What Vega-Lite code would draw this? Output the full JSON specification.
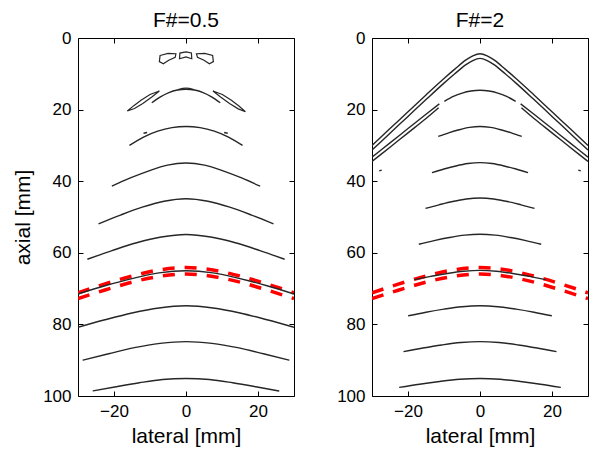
{
  "$schema": "https://vega.github.io/schema/vega-lite/v6.json",
  "background": "white",
  "padding": {"left": 12, "top": 9, "right": 5, "bottom": 2},
  "spacing": 38,
  "config": {
    "font": "Liberation Sans",
    "view": {"stroke": "black", "strokeWidth": 1},
    "axis": {"domain": false, "grid": false, "tickColor": "black", "tickSize": -5, "tickWidth": 1, "labelFontSize": 17, "labelColor": "black", "labelPadding": 12, "titleFontSize": 21, "titleFontWeight": "normal", "titleColor": "black", "labelFont": "Liberation Sans", "titleFont": "Liberation Sans"},
    "title": {"fontSize": 21, "fontWeight": "normal", "font": "Liberation Sans", "color": "black", "offset": -2}
  },
  "datasets": {
    "red": [
      {"s": "u", "x": -30, "y": 71.2}, {"s": "u", "x": -22.5, "y": 68.7}, {"s": "u", "x": -15, "y": 66.5}, {"s": "u", "x": -7.5, "y": 64.8}, {"s": "u", "x": 0, "y": 64.1}, {"s": "u", "x": 7.5, "y": 64.8}, {"s": "u", "x": 15, "y": 66.5}, {"s": "u", "x": 22.5, "y": 68.7}, {"s": "u", "x": 30, "y": 71.2},
      {"s": "l", "x": -30, "y": 72.8}, {"s": "l", "x": -22.5, "y": 70.4}, {"s": "l", "x": -15, "y": 68.2}, {"s": "l", "x": -7.5, "y": 66.6}, {"s": "l", "x": 0, "y": 65.9}, {"s": "l", "x": 7.5, "y": 66.6}, {"s": "l", "x": 15, "y": 68.2}, {"s": "l", "x": 22.5, "y": 70.4}, {"s": "l", "x": 30, "y": 72.8}
    ],
    "L": [
      {"s": "a15", "x": -9.5, "y": 18.1}, {"s": "a15", "x": -7.1, "y": 16.44}, {"s": "a15", "x": -4.75, "y": 15.25}, {"s": "a15", "x": -2.4, "y": 14.54}, {"s": "a15", "x": 0, "y": 14.3}, {"s": "a15", "x": 2.4, "y": 14.54}, {"s": "a15", "x": 4.75, "y": 15.25}, {"s": "a15", "x": 7.1, "y": 16.44}, {"s": "a15", "x": 9.5, "y": 18.1},
      {"s": "a25", "x": -15.7, "y": 30.0}, {"s": "a25", "x": -11.8, "y": 27.68}, {"s": "a25", "x": -7.85, "y": 26.03}, {"s": "a25", "x": -3.9, "y": 25.03}, {"s": "a25", "x": 0, "y": 24.7}, {"s": "a25", "x": 3.9, "y": 25.03}, {"s": "a25", "x": 7.85, "y": 26.03}, {"s": "a25", "x": 11.8, "y": 27.68}, {"s": "a25", "x": 15.7, "y": 30.0},
      {"s": "a35", "x": -20.6, "y": 41.4}, {"s": "a35", "x": -15.45, "y": 39.1}, {"s": "a35", "x": -10.3, "y": 37.1}, {"s": "a35", "x": -5.15, "y": 35.5}, {"s": "a35", "x": 0, "y": 34.9}, {"s": "a35", "x": 5.15, "y": 35.5}, {"s": "a35", "x": 10.3, "y": 37.1}, {"s": "a35", "x": 15.45, "y": 39.1}, {"s": "a35", "x": 20.6, "y": 41.4},
      {"s": "a45", "x": -24.3, "y": 51.9}, {"s": "a45", "x": -18.2, "y": 49.45}, {"s": "a45", "x": -12.15, "y": 47.25}, {"s": "a45", "x": -6.1, "y": 45.6}, {"s": "a45", "x": 0, "y": 44.9}, {"s": "a45", "x": 6.1, "y": 45.6}, {"s": "a45", "x": 12.15, "y": 47.25}, {"s": "a45", "x": 18.2, "y": 49.45}, {"s": "a45", "x": 24.3, "y": 51.9},
      {"s": "a55", "x": -27.4, "y": 61.8}, {"s": "a55", "x": -20.55, "y": 59.4}, {"s": "a55", "x": -13.7, "y": 57.2}, {"s": "a55", "x": -6.85, "y": 55.6}, {"s": "a55", "x": 0, "y": 54.9}, {"s": "a55", "x": 6.85, "y": 55.6}, {"s": "a55", "x": 13.7, "y": 57.2}, {"s": "a55", "x": 20.55, "y": 59.4}, {"s": "a55", "x": 27.4, "y": 61.8},
      {"s": "a65", "x": -30, "y": 71.5}, {"s": "a65", "x": -22.5, "y": 69.2}, {"s": "a65", "x": -15, "y": 67.2}, {"s": "a65", "x": -7.5, "y": 65.6}, {"s": "a65", "x": 0, "y": 65.0}, {"s": "a65", "x": 7.5, "y": 65.6}, {"s": "a65", "x": 15, "y": 67.2}, {"s": "a65", "x": 22.5, "y": 69.2}, {"s": "a65", "x": 30, "y": 71.5},
      {"s": "a75", "x": -30, "y": 80.8}, {"s": "a75", "x": -22.5, "y": 78.7}, {"s": "a75", "x": -15, "y": 76.8}, {"s": "a75", "x": -7.5, "y": 75.4}, {"s": "a75", "x": 0, "y": 74.8}, {"s": "a75", "x": 7.5, "y": 75.4}, {"s": "a75", "x": 15, "y": 76.8}, {"s": "a75", "x": 22.5, "y": 78.7}, {"s": "a75", "x": 30, "y": 80.8},
      {"s": "a85", "x": -28.7, "y": 90.0}, {"s": "a85", "x": -21.5, "y": 88.2}, {"s": "a85", "x": -14.35, "y": 86.5}, {"s": "a85", "x": -7.2, "y": 85.3}, {"s": "a85", "x": 0, "y": 84.8}, {"s": "a85", "x": 7.2, "y": 85.3}, {"s": "a85", "x": 14.35, "y": 86.5}, {"s": "a85", "x": 21.5, "y": 88.2}, {"s": "a85", "x": 28.7, "y": 90.0},
      {"s": "a95", "x": -25.9, "y": 98.6}, {"s": "a95", "x": -19.4, "y": 97.4}, {"s": "a95", "x": -12.95, "y": 96.3}, {"s": "a95", "x": -6.5, "y": 95.4}, {"s": "a95", "x": 0, "y": 95.1}, {"s": "a95", "x": 6.5, "y": 95.4}, {"s": "a95", "x": 12.95, "y": 96.3}, {"s": "a95", "x": 19.4, "y": 97.4}, {"s": "a95", "x": 25.9, "y": 98.6},
      {"s": "d1", "x": -11.8, "y": 26.6}, {"s": "d1", "x": -10.8, "y": 26.4},
      {"s": "d2", "x": 10.6, "y": 26.4}, {"s": "d2", "x": 11.6, "y": 26.6},
      {"s": "ab", "x": -2.2, "y": 14.4}, {"s": "ab", "x": 0, "y": 14.0}, {"s": "ab", "x": 2.2, "y": 14.4}
    ],
    "Lloop": [
      {"s": "b1", "i": 0, "x": -7.2, "y": 4.9}, {"s": "b1", "i": 1, "x": -5.0, "y": 4.3}, {"s": "b1", "i": 2, "x": -2.8, "y": 4.4}, {"s": "b1", "i": 3, "x": -3.0, "y": 5.4}, {"s": "b1", "i": 4, "x": -4.8, "y": 6.2}, {"s": "b1", "i": 5, "x": -6.3, "y": 7.2}, {"s": "b1", "i": 6, "x": -7.4, "y": 6.6},
      {"s": "b2", "i": 0, "x": -1.8, "y": 5.8}, {"s": "b2", "i": 1, "x": -1.7, "y": 4.2}, {"s": "b2", "i": 2, "x": 0, "y": 3.9}, {"s": "b2", "i": 3, "x": 1.5, "y": 4.2}, {"s": "b2", "i": 4, "x": 1.6, "y": 5.8}, {"s": "b2", "i": 5, "x": 0, "y": 5.3},
      {"s": "b3", "i": 0, "x": 2.9, "y": 4.4}, {"s": "b3", "i": 1, "x": 5.2, "y": 4.3}, {"s": "b3", "i": 2, "x": 7.4, "y": 4.9}, {"s": "b3", "i": 3, "x": 7.6, "y": 6.6}, {"s": "b3", "i": 4, "x": 6.5, "y": 7.2}, {"s": "b3", "i": 5, "x": 5.0, "y": 6.2}, {"s": "b3", "i": 6, "x": 3.2, "y": 5.4},
      {"s": "f1", "i": 0, "x": -16.3, "y": 20.4}, {"s": "f1", "i": 1, "x": -14.5, "y": 18.9}, {"s": "f1", "i": 2, "x": -12.5, "y": 17.4}, {"s": "f1", "i": 3, "x": -10.0, "y": 15.8}, {"s": "f1", "i": 4, "x": -7.4, "y": 14.8}, {"s": "f1", "i": 5, "x": -9.5, "y": 16.5}, {"s": "f1", "i": 6, "x": -12.0, "y": 18.3}, {"s": "f1", "i": 7, "x": -14.3, "y": 19.7},
      {"s": "f2", "i": 0, "x": 16.5, "y": 20.6}, {"s": "f2", "i": 1, "x": 14.7, "y": 19.0}, {"s": "f2", "i": 2, "x": 12.6, "y": 17.4}, {"s": "f2", "i": 3, "x": 10.1, "y": 15.8}, {"s": "f2", "i": 4, "x": 7.5, "y": 14.8}, {"s": "f2", "i": 5, "x": 9.6, "y": 16.5}, {"s": "f2", "i": 6, "x": 12.1, "y": 18.3}, {"s": "f2", "i": 7, "x": 14.5, "y": 19.8}
    ],
    "R": [
      {"s": "c1", "x": -30, "y": 30.0}, {"s": "c1", "x": -25, "y": 25.3}, {"s": "c1", "x": -20, "y": 20.6}, {"s": "c1", "x": -15, "y": 15.9}, {"s": "c1", "x": -10, "y": 11.3}, {"s": "c1", "x": -7, "y": 8.7}, {"s": "c1", "x": -4, "y": 6.2}, {"s": "c1", "x": -2, "y": 5.0}, {"s": "c1", "x": 0, "y": 4.4}, {"s": "c1", "x": 2, "y": 5.0}, {"s": "c1", "x": 4, "y": 6.2}, {"s": "c1", "x": 7, "y": 8.7}, {"s": "c1", "x": 10, "y": 11.3}, {"s": "c1", "x": 15, "y": 15.9}, {"s": "c1", "x": 20, "y": 20.6}, {"s": "c1", "x": 25, "y": 25.3}, {"s": "c1", "x": 30, "y": 30.0},
      {"s": "c2", "x": -30, "y": 31.3}, {"s": "c2", "x": -25, "y": 26.6}, {"s": "c2", "x": -20, "y": 21.9}, {"s": "c2", "x": -15, "y": 17.2}, {"s": "c2", "x": -10, "y": 12.6}, {"s": "c2", "x": -7, "y": 10.0}, {"s": "c2", "x": -4, "y": 7.5}, {"s": "c2", "x": -2, "y": 6.3}, {"s": "c2", "x": 0, "y": 5.7}, {"s": "c2", "x": 2, "y": 6.3}, {"s": "c2", "x": 4, "y": 7.5}, {"s": "c2", "x": 7, "y": 10.0}, {"s": "c2", "x": 10, "y": 12.6}, {"s": "c2", "x": 15, "y": 17.2}, {"s": "c2", "x": 20, "y": 21.9}, {"s": "c2", "x": 25, "y": 26.6}, {"s": "c2", "x": 30, "y": 31.3},
      {"s": "i1L", "x": -30, "y": 33.3}, {"s": "i1L", "x": -25, "y": 29.3}, {"s": "i1L", "x": -20, "y": 25.3}, {"s": "i1L", "x": -15, "y": 21.3}, {"s": "i1L", "x": -11.3, "y": 18.4},
      {"s": "i2L", "x": -30, "y": 34.5}, {"s": "i2L", "x": -25, "y": 30.5}, {"s": "i2L", "x": -20, "y": 26.5}, {"s": "i2L", "x": -15, "y": 22.5}, {"s": "i2L", "x": -11.5, "y": 19.5},
      {"s": "i1R", "x": 30, "y": 33.3}, {"s": "i1R", "x": 25, "y": 29.3}, {"s": "i1R", "x": 20, "y": 25.3}, {"s": "i1R", "x": 15, "y": 21.3}, {"s": "i1R", "x": 11.3, "y": 18.4},
      {"s": "i2R", "x": 30, "y": 34.5}, {"s": "i2R", "x": 25, "y": 30.5}, {"s": "i2R", "x": 20, "y": 26.5}, {"s": "i2R", "x": 15, "y": 22.5}, {"s": "i2R", "x": 11.5, "y": 19.5},
      {"s": "r15", "x": -9.9, "y": 17.7}, {"s": "r15", "x": -7.4, "y": 16.33}, {"s": "r15", "x": -4.95, "y": 15.38}, {"s": "r15", "x": -2.5, "y": 14.8}, {"s": "r15", "x": 0, "y": 14.6}, {"s": "r15", "x": 2.5, "y": 14.8}, {"s": "r15", "x": 4.95, "y": 15.38}, {"s": "r15", "x": 7.4, "y": 16.33}, {"s": "r15", "x": 9.9, "y": 17.7},
      {"s": "r25", "x": -11.6, "y": 27.5}, {"s": "r25", "x": -8.7, "y": 26.5}, {"s": "r25", "x": -5.8, "y": 25.64}, {"s": "r25", "x": -2.9, "y": 24.97}, {"s": "r25", "x": 0, "y": 24.7}, {"s": "r25", "x": 2.9, "y": 24.97}, {"s": "r25", "x": 5.8, "y": 25.64}, {"s": "r25", "x": 8.7, "y": 26.5}, {"s": "r25", "x": 11.6, "y": 27.5},
      {"s": "r35", "x": -13.35, "y": 37.6}, {"s": "r35", "x": -10.0, "y": 36.6}, {"s": "r35", "x": -6.7, "y": 35.74}, {"s": "r35", "x": -3.35, "y": 35.07}, {"s": "r35", "x": 0, "y": 34.8}, {"s": "r35", "x": 3.35, "y": 35.07}, {"s": "r35", "x": 6.7, "y": 35.74}, {"s": "r35", "x": 10.0, "y": 36.6}, {"s": "r35", "x": 13.35, "y": 37.6},
      {"s": "r45", "x": -15.15, "y": 47.6}, {"s": "r45", "x": -11.4, "y": 46.6}, {"s": "r45", "x": -7.6, "y": 45.67}, {"s": "r45", "x": -3.8, "y": 44.98}, {"s": "r45", "x": 0, "y": 44.7}, {"s": "r45", "x": 3.8, "y": 44.98}, {"s": "r45", "x": 7.6, "y": 45.67}, {"s": "r45", "x": 11.4, "y": 46.6}, {"s": "r45", "x": 15.15, "y": 47.6},
      {"s": "r55", "x": -17, "y": 57.6}, {"s": "r55", "x": -12.75, "y": 56.6}, {"s": "r55", "x": -8.5, "y": 55.74}, {"s": "r55", "x": -4.25, "y": 55.07}, {"s": "r55", "x": 0, "y": 54.8}, {"s": "r55", "x": 4.25, "y": 55.07}, {"s": "r55", "x": 8.5, "y": 55.74}, {"s": "r55", "x": 12.75, "y": 56.6}, {"s": "r55", "x": 17, "y": 57.6},
      {"s": "r65", "x": -18.25, "y": 67.5}, {"s": "r65", "x": -13.7, "y": 66.6}, {"s": "r65", "x": -9.1, "y": 65.77}, {"s": "r65", "x": -4.55, "y": 65.15}, {"s": "r65", "x": 0, "y": 64.9}, {"s": "r65", "x": 4.55, "y": 65.15}, {"s": "r65", "x": 9.1, "y": 65.77}, {"s": "r65", "x": 13.7, "y": 66.6}, {"s": "r65", "x": 18.25, "y": 67.5},
      {"s": "r75", "x": -19.95, "y": 77.6}, {"s": "r75", "x": -15, "y": 76.6}, {"s": "r75", "x": -10, "y": 75.74}, {"s": "r75", "x": -5.0, "y": 75.07}, {"s": "r75", "x": 0, "y": 74.8}, {"s": "r75", "x": 5.0, "y": 75.07}, {"s": "r75", "x": 10, "y": 75.74}, {"s": "r75", "x": 15, "y": 76.6}, {"s": "r75", "x": 19.95, "y": 77.6},
      {"s": "r85", "x": -21.25, "y": 87.6}, {"s": "r85", "x": -15.9, "y": 86.6}, {"s": "r85", "x": -10.6, "y": 85.74}, {"s": "r85", "x": -5.3, "y": 85.07}, {"s": "r85", "x": 0, "y": 84.8}, {"s": "r85", "x": 5.3, "y": 85.07}, {"s": "r85", "x": 10.6, "y": 85.74}, {"s": "r85", "x": 15.9, "y": 86.6}, {"s": "r85", "x": 21.25, "y": 87.6},
      {"s": "r95", "x": -22.45, "y": 97.6}, {"s": "r95", "x": -16.8, "y": 96.7}, {"s": "r95", "x": -11.2, "y": 95.94}, {"s": "r95", "x": -5.6, "y": 95.34}, {"s": "r95", "x": 0, "y": 95.1}, {"s": "r95", "x": 5.6, "y": 95.34}, {"s": "r95", "x": 11.2, "y": 95.94}, {"s": "r95", "x": 16.8, "y": 96.7}, {"s": "r95", "x": 22.45, "y": 97.6},
      {"s": "d3", "x": -28.0, "y": 37.1}, {"s": "d3", "x": -27.3, "y": 36.9},
      {"s": "d4", "x": 27.3, "y": 36.9}, {"s": "d4", "x": 28.0, "y": 37.1}
    ]
  },
  "hconcat": [
    {
      "width": 216,
      "height": 358,
      "title": "F#=0.5",
      "layer": [
        {
          "data": {"name": "red"},
          "mark": {"type": "line", "interpolate": "monotone", "stroke": "#ff0000", "strokeWidth": 3.5, "strokeDash": [12, 10], "clip": true},
          "encoding": {
            "x": {"field": "x", "type": "quantitative", "scale": {"domain": [-30, 30], "nice": false, "zero": false}, "axis": {"values": [-20, 0, 20], "title": "lateral [mm]", "titlePadding": 6}},
            "y": {"field": "y", "type": "quantitative", "scale": {"domain": [0, 100], "reverse": true, "nice": false}, "axis": {"values": [0, 20, 40, 60, 80, 100], "title": "axial [mm]", "titlePadding": 9}},
            "detail": {"field": "s"}
          }
        },
        {
          "data": {"name": "L"},
          "mark": {"type": "line", "interpolate": "monotone", "stroke": "#262626", "strokeWidth": 1.4, "clip": true},
          "encoding": {
            "x": {"field": "x", "type": "quantitative", "axis": null},
            "y": {"field": "y", "type": "quantitative", "axis": null},
            "detail": {"field": "s"}
          }
        },
        {
          "data": {"name": "Lloop"},
          "mark": {"type": "line", "interpolate": "linear-closed", "stroke": "#262626", "strokeWidth": 1.2, "clip": true},
          "encoding": {
            "x": {"field": "x", "type": "quantitative", "axis": null},
            "y": {"field": "y", "type": "quantitative", "axis": null},
            "detail": {"field": "s"},
            "order": {"field": "i"}
          }
        },
        {
          "data": {"name": "red"},
          "mark": {"type": "point", "opacity": 0},
          "encoding": {
            "x": {"field": "x", "type": "quantitative", "axis": {"orient": "top", "values": [-20, 0, 20], "labels": false, "title": null}},
            "y": {"field": "y", "type": "quantitative", "axis": {"orient": "right", "values": [0, 20, 40, 60, 80, 100], "labels": false, "title": null}}
          }
        }
      ],
      "resolve": {"axis": {"x": "independent", "y": "independent"}}
    },
    {
      "width": 216,
      "height": 358,
      "title": "F#=2",
      "layer": [
        {
          "data": {"name": "red"},
          "mark": {"type": "line", "interpolate": "monotone", "stroke": "#ff0000", "strokeWidth": 3.5, "strokeDash": [12, 10], "clip": true},
          "encoding": {
            "x": {"field": "x", "type": "quantitative", "scale": {"domain": [-30, 30], "nice": false, "zero": false}, "axis": {"values": [-20, 0, 20], "title": "lateral [mm]", "titlePadding": 6}},
            "y": {"field": "y", "type": "quantitative", "scale": {"domain": [0, 100], "reverse": true, "nice": false}, "axis": {"values": [0, 20, 40, 60, 80, 100], "title": null}},
            "detail": {"field": "s"}
          }
        },
        {
          "data": {"name": "R"},
          "mark": {"type": "line", "interpolate": "monotone", "stroke": "#262626", "strokeWidth": 1.4, "clip": true},
          "encoding": {
            "x": {"field": "x", "type": "quantitative", "axis": null},
            "y": {"field": "y", "type": "quantitative", "axis": null},
            "detail": {"field": "s"}
          }
        },
        {
          "data": {"name": "red"},
          "mark": {"type": "point", "opacity": 0},
          "encoding": {
            "x": {"field": "x", "type": "quantitative", "axis": {"orient": "top", "values": [-20, 0, 20], "labels": false, "title": null}},
            "y": {"field": "y", "type": "quantitative", "axis": {"orient": "right", "values": [0, 20, 40, 60, 80, 100], "labels": false, "title": null}}
          }
        }
      ],
      "resolve": {"axis": {"x": "independent", "y": "independent"}}
    }
  ]
}
